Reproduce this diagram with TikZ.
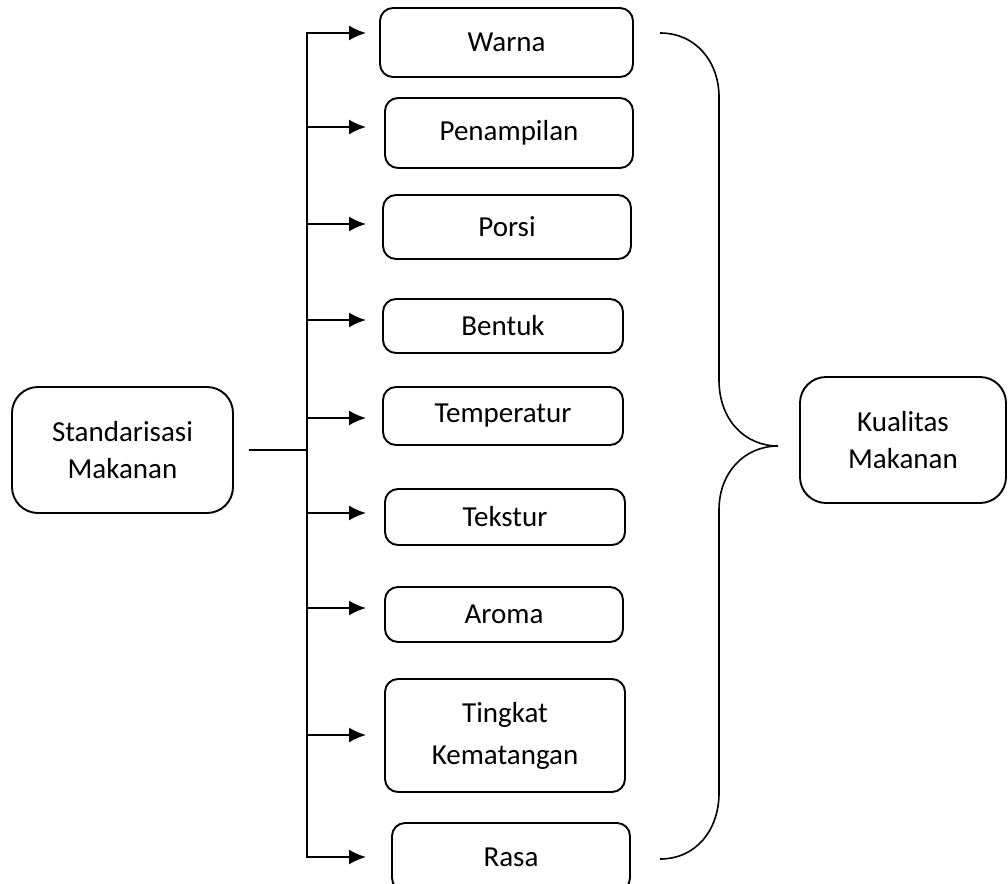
\documentclass[tikz,border=0pt]{standalone}
\usepackage{fontspec}
\setmainfont{Carlito}
\usetikzlibrary{arrows.meta}
\tikzset{
    item/.style={draw, line width=1.9pt, rounded corners=13pt, align=center, inner sep=0pt},
    bigbox/.style={item, rounded corners=26pt},
}
\begin{document}
\begin{tikzpicture}[x=1pt,y=-1pt,>={Latex[length=17pt,width=15pt]},line width=1.9pt,
    font=\fontsize{29}{37}\selectfont]
\useasboundingbox (0,0) rectangle (1008,883);
    % kiri dan kanan
    \node[bigbox, minimum width=221pt, minimum height=126pt] (std) at (122.5,450) {Standarisasi\\Makanan};
    \node[bigbox, minimum width=206pt, minimum height=126pt] (kual) at (903,440) {Kualitas\\Makanan};
    % kotak-kotak tengah
    \node[item, minimum width=253pt, minimum height=69pt] (warna) at (506.5,42.5) {Warna};
    \node[item, minimum width=248pt, minimum height=70pt] (tampil) at (509,133) {Penampilan};
    \node[item, minimum width=248pt, minimum height=64pt] (porsi) at (507,227) {Porsi};
    \node[item, minimum width=240pt, minimum height=54pt] (bentuk) at (503,326) {Bentuk};
    \node[item, minimum width=240pt, minimum height=58pt] (suhu) at (503,416) {Temperatur};
    \node[item, minimum width=240pt, minimum height=56pt] (tekstur) at (505,517) {Tekstur};
    \node[item, minimum width=238pt, minimum height=55pt] (aroma) at (504,614.5) {Aroma};
    \node[item, minimum width=240pt, minimum height=113pt] (matang) at (505,735.5) {Tingkat\\[5pt]Kematangan};
    \node[item, minimum width=238pt, minimum height=68pt] (rasa) at (511,857) {Rasa};
    % ujung panah
    \coordinate (spine) at (307,0);
    \coordinate (a1) at (366,33);
    \coordinate (a2) at (366,127);
    \coordinate (a3) at (366,224);
    \coordinate (a4) at (366,320);
    \coordinate (a5) at (366,418);
    \coordinate (a6) at (366,513);
    \coordinate (a7) at (366,608);
    \coordinate (a8) at (366,735);
    \coordinate (a9) at (366,857);
    \draw[<->] (a1)--(a1 -| spine)--(a9 -| spine)--(a9);
    \draw[->] (a2 -| spine)--(a2);
    \draw[->] (a3 -| spine)--(a3);
    \draw[->] (a4 -| spine)--(a4);
    \draw[->] (a5 -| spine)--(a5);
    \draw[->] (a6 -| spine)--(a6);
    \draw[->] (a7 -| spine)--(a7);
    \draw[->] (a8 -| spine)--(a8);
    \draw[shorten <=15pt] (std.east)--(std.east -| spine);
    % kurung kurawal
    \draw[line width=1.6pt] (660,33) .. controls (696,33) and (719,62) .. (719,97) -- (719,380)
        .. controls (719,420) and (745,446) .. (778,446)
        .. controls (745,446) and (719,472) .. (719,510) -- (719,793)
        .. controls (719,830) and (696,859) .. (660,859);
\end{tikzpicture}
\end{document}
